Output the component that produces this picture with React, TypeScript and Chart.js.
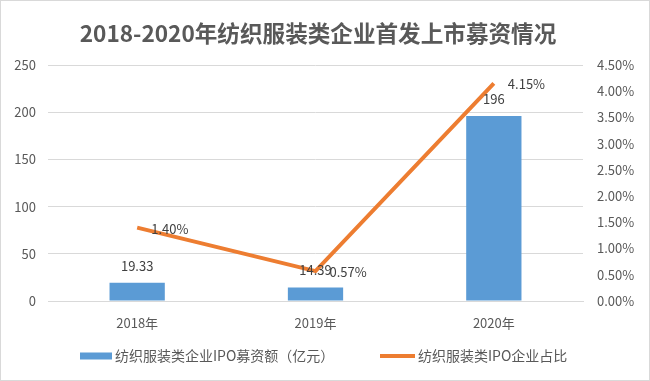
import React, { useEffect, useRef } from "react";
import { Chart, registerables } from "chart.js";

Chart.register(...registerables);

const TITLE = "2018-2020年纺织服装类企业首发上市募资情况";
const categories = ["2018年", "2019年", "2020年"];
const amountLabel = "纺织服装类企业IPO募资额（亿元）";
const amounts = [19.33, 14.39, 196];
const shareLabel = "纺织服装类IPO企业占比";
const shares = [1.4, 0.57, 4.15];

const FONT = "'Noto Sans CJK SC', 'Noto Sans', sans-serif";
const BLUE = "#5B9BD5";
const ORANGE = "#ED7D31";
const TEXT = "#595959";

const labelPlugin = {
  id: "valueLabels",
  afterDatasetsDraw(chart: any) {
    const ctx = chart.ctx;
    ctx.save();
    ctx.font = `13px ${FONT}`;
    ctx.fillStyle = "#404040";
    const barMeta = chart.getDatasetMeta(0);
    barMeta.data.forEach((el: any, i: number) => {
      ctx.textAlign = "center";
      ctx.textBaseline = "middle";
      ctx.fillText(String(amounts[i]), el.x, el.y - 17);
    });
    const lineMeta = chart.getDatasetMeta(1);
    lineMeta.data.forEach((el: any, i: number) => {
      ctx.textAlign = "left";
      ctx.textBaseline = "middle";
      ctx.fillText(shares[i].toFixed(2) + "%", el.x + 14, el.y + 1);
    });
    ctx.restore();
  },
};

const titleLegendPlugin = {
  id: "customTitleLegend",
  afterDraw(chart: any) {
    const ctx = chart.ctx;
    ctx.save();
    ctx.font = `bold 22.6px ${FONT}`;
    ctx.fillStyle = TEXT;
    ctx.textAlign = "center";
    ctx.textBaseline = "middle";
    ctx.fillText(TITLE, 317, 32);
    // legend
    const y = 355;
    ctx.fillStyle = BLUE;
    ctx.fillRect(79, y - 3.5, 32, 7);
    ctx.font = `14px ${FONT}`;
    ctx.fillStyle = TEXT;
    ctx.textAlign = "left";
    ctx.fillText(amountLabel, 114, y);
    ctx.strokeStyle = ORANGE;
    ctx.lineWidth = 4;
    ctx.beginPath();
    ctx.moveTo(379, y);
    ctx.lineTo(414, y);
    ctx.stroke();
    ctx.fillText(shareLabel, 417, y);
    ctx.restore();
  },
};

export default function App() {
  const ref = useRef<HTMLCanvasElement>(null);
  useEffect(() => {
    document.body.style.margin = "0";
    const chart = new Chart(ref.current!, {
      type: "bar",
      data: {
        labels: categories,
        datasets: [
          {
            type: "bar",
            label: amountLabel,
            data: amounts,
            backgroundColor: BLUE,
            yAxisID: "y",
            barPercentage: 0.31,
            categoryPercentage: 1,
            order: 2,
          },
          {
            type: "line",
            label: shareLabel,
            data: shares,
            borderColor: ORANGE,
            backgroundColor: ORANGE,
            borderWidth: 4,
            pointRadius: 0,
            tension: 0,
            yAxisID: "y1",
            order: 1,
          } as any,
        ],
      },
      options: {
        animation: false,
        responsive: false,
        layout: { padding: { top: 64, left: 0, right: 0, bottom: 43 } },
        plugins: {
          title: { display: false },
          tooltip: { enabled: false },
          legend: { display: false },
        },
        scales: {
          x: {
            grid: { display: false },
            border: { display: true, color: "#d9d9d9" },
            ticks: { color: TEXT, font: { family: FONT, size: 13 }, padding: 6 },
            afterFit: (s: any) => {
              s.height = 36;
            },
          },
          y: {
            position: "left",
            min: 0,
            max: 250,
            ticks: { stepSize: 50, color: TEXT, font: { family: FONT, size: 13 }, padding: 12 },
            grid: { color: "#d9d9d9", drawTicks: false },
            border: { display: false },
            afterFit: (s: any) => {
              s.width = 47;
            },
          },
          y1: {
            position: "right",
            min: 0,
            max: 4.5,
            ticks: {
              stepSize: 0.5,
              color: TEXT,
              font: { family: FONT, size: 13 },
              padding: 14,
              callback: (v: any) => Number(v).toFixed(2) + "%",
            },
            grid: { display: false, drawTicks: false },
            border: { display: false },
            afterFit: (s: any) => {
              s.width = 66;
            },
          },
        },
      },
      plugins: [labelPlugin, titleLegendPlugin],
    });
    return () => chart.destroy();
  }, []);
  return (
    <div style={{ position: "relative", width: 650, height: 381, boxSizing: "border-box", border: "1px solid #d9d9d9", background: "#fff" }}>
      <canvas ref={ref} width={648} height={379} />
    </div>
  );
}
